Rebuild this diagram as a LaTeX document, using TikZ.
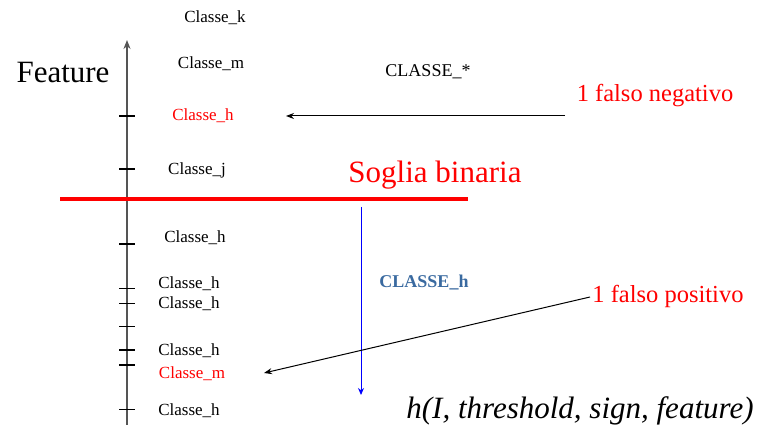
\documentclass[tikz,border=0pt]{standalone}
\usepackage{fontspec}
\setmainfont{Liberation Serif}
\newfontfamily\tnr{Liberation Serif}
\usetikzlibrary{arrows.meta}
\definecolor{axisgray}{HTML}{555555}
\definecolor{steelb}{HTML}{3A6AA0}
\tikzset{
  lbl/.style={font=\tnr\fontsize{17}{19}\selectfont, inner sep=0pt},
  big/.style={font=\tnr\fontsize{31}{34}\selectfont, inner sep=0pt},
  note/.style={font=\tnr\fontsize{24.5}{27}\selectfont, text=red, inner sep=0pt},
  thintick/.style={line width=1pt},
  thicktick/.style={line width=2pt},
}
\begin{document}
\begin{tikzpicture}[x=1pt,y=-1pt]
\useasboundingbox (0,0) rectangle (764,430);
% axis
\coordinate (ab) at (127,425);
\coordinate (at) at (127,40);
\draw[axisgray, line width=1.8pt, -{Stealth[length=9pt,width=7pt]}] (ab) -- (at);
% ticks
\foreach \y in {116,169,244,350,365}{\draw[thicktick] (119,\y) -- (135,\y);}
\foreach \y in {289,304,327,410}{\draw[thintick] (119,\y) -- (135,\y);}
% labels on axis
\node[lbl] (ck) at (215,18) {Classe\_k};
\node[lbl] (cm) at (211,64) {Classe\_m};
\node[lbl, text=red] (chr) at (203,116) {Classe\_h};
\node[lbl] (cj) at (197,170) {Classe\_j};
\node[lbl] (ch1) at (195,238) {Classe\_h};
\node[lbl] (ch2) at (189,284) {Classe\_h};
\node[lbl] (ch3) at (189,304) {Classe\_h};
\node[lbl] (ch4) at (189,351) {Classe\_h};
\node[lbl, text=red] (cmr) at (192,374) {Classe\_m};
\node[lbl] (ch5) at (189,411) {Classe\_h};
% other texts
\node[big] (feat) at (63,73) {Feature};
\node[lbl, font=\tnr\fontsize{18}{20}\selectfont] (cstar) at (428,72) {CLASSE\_*};
\node[big, text=red] (soglia) at (435,175) {Soglia binaria};
\node[note] (fn) at (655,96) {1 falso negativo};
\node[note] (fp) at (668,296) {1 falso positivo};
\node[lbl, font=\tnr\bfseries\fontsize{18}{20}\selectfont, text=steelb] (chb) at (424,283) {CLASSE\_h};
\node[big, font=\tnr\itshape\fontsize{31}{34}\selectfont] (hf) at (580,411) {h(I, threshold, sign, feature)};
% threshold line
\coordinate (t1) at (60,199);
\coordinate (t2) at (468,199);
\draw[red, line width=4pt] (t1) -- (t2);
% blue arrow
\coordinate (b1) at (361,207);
\coordinate (b2) at (361,395);
\draw[blue, line width=1pt, -{Stealth[length=7pt,width=6pt]}] (b1) -- (b2);
% pointer arrows
\coordinate (n1) at (565,116);
\coordinate (n2) at (286,116);
\draw[line width=1pt, -{Stealth[length=8pt,width=6pt]}] (n1) -- (n2);
\coordinate (p1) at (590,297);
\coordinate (p2) at (264,373);
\draw[line width=1pt, -{Stealth[length=8pt,width=6pt]}] (p1) -- (p2);
\end{tikzpicture}
\end{document}
